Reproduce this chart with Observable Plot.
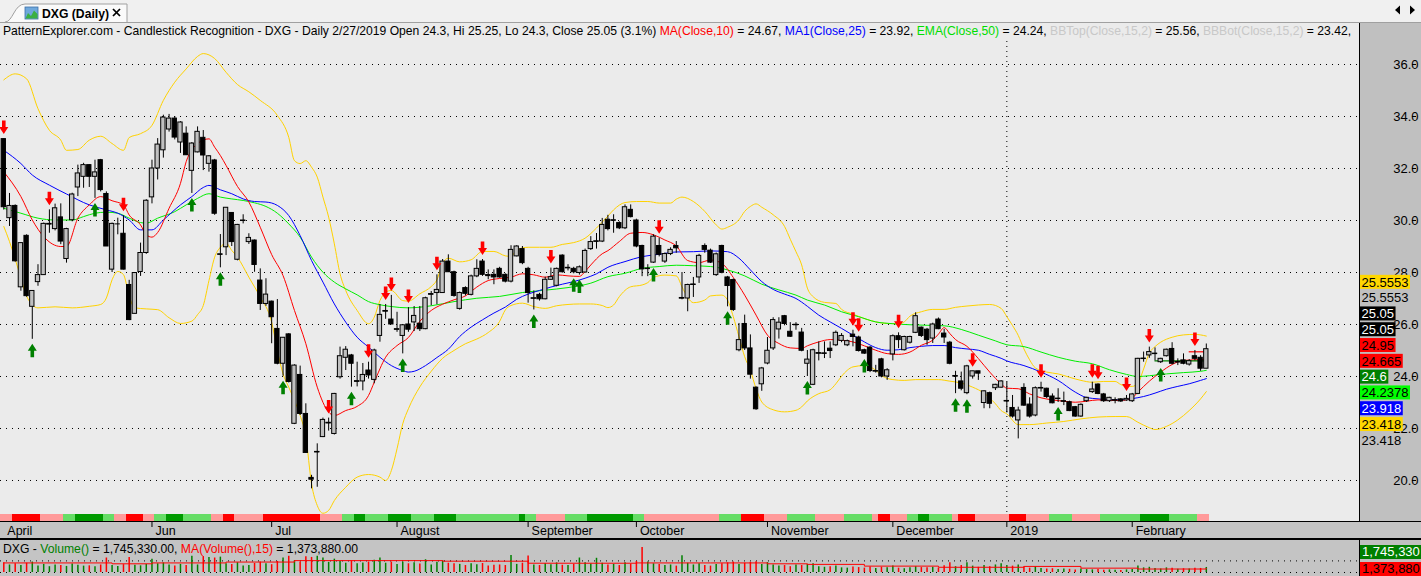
<!DOCTYPE html>
<html><head><meta charset="utf-8">
<script src="https://cdn.jsdelivr.net/npm/d3@7"></script>
<script src="https://cdn.jsdelivr.net/npm/@observablehq/plot@0.6"></script>
<style>
html,body{margin:0;padding:0;}
body{width:1421px;height:576px;overflow:hidden;position:relative;background:#F0F0F0;font-family:"Liberation Sans",Arial,sans-serif;color:#000;}
.abs{position:absolute;}
.lbl{position:absolute;font-size:13px;line-height:14px;height:14px;white-space:nowrap;overflow:hidden;padding-left:2px;box-sizing:border-box;}
</style></head><body>
<svg class="abs" style="left:0;top:0" width="1421" height="23">
  <path d="M5,22 C13,22 14,4 25,4 L127,4 L127,22" fill="#FAFAFA" stroke="#A0A0A0"/>
  <rect x="25" y="7" width="13" height="12" fill="#6FA8DC" stroke="#3D6FA8" stroke-width="0.8"/>
  <polygon points="25.5,18.5 28,13 31,16 34,10.5 37.5,14 37.5,18.5" fill="#3CB043"/>
  <text x="42" y="18" font-size="12.2" font-weight="bold" font-family="Liberation Sans,Arial,sans-serif">DXG (Daily)</text>
  <line x1="113" y1="9" x2="120" y2="16" stroke="#000" stroke-width="1.7"/>
  <line x1="120" y1="9" x2="113" y2="16" stroke="#000" stroke-width="1.7"/>
  <polygon points="1400,5.5 1400,14.5 1395,10" fill="#000"/>
  <polygon points="1410,5.5 1410,14.5 1415,10" fill="#000"/>
</svg>
<div class="abs" style="left:0;top:22px;width:1421px;height:1px;background:#A0A0A0"></div>
<div class="abs" style="left:0;top:23px;width:1359px;height:498px;background:#EBEBEB"></div>
<div class="abs" style="left:1359px;top:23px;width:62px;height:498px;background:#C0C0C0"></div>
<div class="abs" style="left:1359px;top:23px;width:1px;height:498px;background:#000"></div>
<div class="abs" style="left:0;top:521px;width:1421px;height:1px;background:#000"></div>
<div class="abs" style="left:0;top:522px;width:1421px;height:16px;background:#C4C4C4"></div>
<div class="abs" style="left:0;top:538px;width:1421px;height:2px;background:#000"></div>
<div class="abs" style="left:0;top:540px;width:1359px;height:36px;background:#C4C4C4"></div>
<div class="abs" style="left:1359px;top:540px;width:62px;height:36px;background:#C0C0C0"></div>
<div class="abs" style="left:1359px;top:540px;width:1px;height:36px;background:#000"></div>
<div class="abs" id="title" style="left:3px;top:24px;font-size:12.15px;line-height:14px;white-space:nowrap;">PatternExplorer.com - Candlestick Recognition - DXG - Daily 2/27/2019 Open 24.3, Hi 25.25, Lo 24.3, Close 25.05 (3.1%) <span style="color:#FF0000">MA(Close,10)</span> = 24.67, <span style="color:#0000FF">MA1(Close,25)</span> = 23.92, <span style="color:#00DD00">EMA(Close,50)</span> = 24.24, <span style="color:#C8C8C8">BBTop(Close,15,2)</span> = 25.56, <span style="color:#C8C8C8">BBBot(Close,15,2)</span> = 23.42,</div>
<div class="abs" id="main" style="left:0;top:23px"></div>
<div class="abs" id="axis" style="left:0;top:522px"></div>
<div class="abs" id="vol" style="left:0;top:539px"></div>
<div class="abs" id="voltitle" style="left:3px;top:542px;font-size:12.2px;line-height:14px;white-space:nowrap;">DXG - <span style="color:#008000">Volume()</span> = 1,745,330.00, <span style="color:#FF0000">MA(Volume(),15)</span> = 1,373,880.00</div>
<div class="lbl" id="vl1" style="left:1360px;top:545px;width:61px;background:#008000;color:#fff;"></div>
<div class="lbl" id="vl2" style="left:1360px;top:562px;width:61px;background:#FF0000;color:#000;"></div>
<script>
// ---------- DATA ----------
const open = [
33.13,30.09,30.56,27.43,29.41,26.68,27.63,27.9,29.85,29.67,
30.12,28.52,30.01,31.27,31.68,32.13,31.68,32.32,31.02,28.11,
29.87,29.49,27.52,26.41,28.02,28.75,30.89,32.0,32.7,33.5,
33.92,33.0,33.34,31.91,32.62,33.18,32.18,32.31,28.69,28.97,
30.29,28.49,29.98,29.17,29.23,27.69,26.79,26.88,25.83,24.49,
25.62,22.18,24.06,22.56,20.1,21.09,21.67,22.2,21.79,23.97,
24.72,24.81,23.8,23.81,24.23,23.87,25.56,26.5,26.19,25.8,
25.56,26.0,26.08,26.03,25.82,27.15,27.21,27.21,28.42,28.01,
26.6,27.4,27.14,27.85,28.42,27.9,27.91,28.14,27.91,27.65,
28.62,28.9,28.14,27.0,27.14,26.97,27.72,27.49,28.65,28.17,
28.14,27.98,28.0,28.9,29.19,29.19,30.03,30.0,29.9,29.7,
30.41,30.0,29.02,28.14,28.38,29.02,28.42,28.71,29.02,27.0,
27.0,27.52,27.81,29.02,28.84,27.9,29.02,27.81,27.71,25.01,
26.02,25.08,23.57,23.7,24.5,25.08,25.81,26.32,25.72,25.98,
25.69,24.49,23.68,24.88,24.88,25.07,25.2,25.37,25.2,25.61,
25.5,25.01,25.11,24.2,24.66,24.0,24.85,25.55,25.01,25.3,
25.68,25.88,25.8,25.46,26.19,25.65,25.3,24.0,23.81,23.36,
24.0,24.2,22.98,23.36,23.55,23.57,23.05,22.79,22.31,23.56,
22.92,22.5,23.55,23.53,23.23,23.14,23.04,23.01,22.82,22.46,
23.05,23.4,23.69,23.31,23.05,23.08,23.12,23.08,23.05,23.33,
24.68,24.81,24.87,24.55,24.78,25.06,24.55,24.62,24.46,24.78,
24.72,24.3];
const high = [
33.15,31.04,30.6,29.15,29.45,27.3,28.3,29.9,30.41,30.63,
30.64,29.7,31.05,32.13,32.2,32.15,32.32,32.35,31.1,29.9,
30.09,30.18,27.7,28.0,29.13,30.8,32.32,33.15,34.05,34.08,
34.0,33.8,33.6,33.0,33.6,33.46,32.5,32.35,29.46,30.5,
30.3,29.85,30.22,29.49,29.25,28.14,27.76,26.9,26.96,25.5,
25.65,24.45,24.4,22.95,20.2,21.41,22.4,22.4,23.35,25.13,
25.15,24.85,24.55,24.5,24.55,25.05,26.77,26.77,27.12,26.47,
26.0,26.65,26.69,26.69,27.05,27.27,27.91,28.5,28.68,28.05,
27.25,27.45,27.9,28.49,28.5,28.1,28.1,28.2,27.95,29.03,
29.03,29.0,28.2,27.29,27.2,27.82,28.17,28.17,28.68,28.3,
28.2,28.25,28.9,29.38,29.5,30.08,30.2,30.22,29.95,30.6,
30.6,30.05,29.05,28.3,29.45,29.32,28.75,28.95,29.19,28.0,
27.55,27.81,28.7,29.1,28.9,28.75,29.05,27.85,27.75,26.04,
26.36,25.6,23.6,24.35,25.5,26.26,26.26,26.35,26.07,26.07,
25.85,25.0,25.05,25.33,25.33,25.33,25.75,25.65,25.4,25.78,
25.55,25.05,25.15,24.43,24.7,24.3,25.6,25.68,25.55,25.55,
26.45,25.9,25.85,26.05,26.25,25.81,25.35,24.2,24.17,24.43,
24.2,24.2,23.45,23.4,23.7,23.84,23.78,23.27,22.82,23.72,
23.18,23.6,23.78,23.55,23.33,23.53,23.4,23.05,22.85,22.95,
23.2,23.78,23.72,23.35,23.2,23.18,23.15,23.27,23.35,24.7,
24.94,25.13,25.1,24.7,25.05,25.3,24.68,24.87,24.65,25.0,
24.8,25.25];
const low = [
30.4,29.77,28.4,27.28,27.05,25.43,27.47,27.9,29.51,29.6,
29.07,28.36,29.95,30.92,31.24,31.27,30.85,31.1,29.0,28.0,
29.45,28.1,26.15,26.4,27.85,28.7,30.64,31.56,32.4,33.4,
33.1,32.58,32.5,31.04,32.6,31.92,31.86,30.2,28.18,28.65,
29.0,28.45,29.87,29.08,28.01,26.54,26.7,25.26,24.45,24.01,
23.75,22.15,22.5,21.05,19.68,19.74,21.65,21.9,21.75,23.9,
24.23,23.59,23.6,23.45,23.9,23.72,25.32,26.2,26.0,25.7,
24.87,25.7,25.73,25.73,25.8,26.72,26.76,27.2,28.0,27.05,
26.55,27.1,27.1,27.8,27.85,27.72,27.53,27.78,27.6,27.6,
28.6,28.3,26.82,26.56,26.9,26.95,27.7,27.45,27.98,28.06,
27.95,27.9,27.98,28.85,28.9,29.15,29.6,29.51,29.65,29.65,
30.1,28.95,27.84,27.84,28.35,28.6,28.35,28.65,28.74,26.95,
26.49,27.04,27.58,28.74,28.35,27.85,27.95,26.68,26.5,24.95,
25.0,23.9,22.7,23.43,24.45,25.0,25.44,25.95,25.5,25.78,
24.95,24.0,23.65,24.6,24.69,24.69,25.15,25.3,25.15,25.14,
24.94,24.85,24.15,24.13,23.95,23.85,24.6,25.07,24.98,25.25,
25.65,25.5,25.2,25.27,25.8,25.27,24.45,23.34,23.45,23.3,
23.9,23.85,22.76,22.76,23.46,23.55,22.6,22.4,21.6,22.85,
22.4,22.45,23.4,23.15,22.95,23.0,22.88,22.65,22.43,22.43,
23.0,23.35,23.3,23.0,23.0,22.95,23.0,23.05,23.0,23.3,
24.55,24.7,24.6,24.5,24.75,24.45,24.42,24.45,24.4,24.6,
24.2,24.3];
const close = [
30.51,30.56,28.43,29.13,27.09,27.29,27.9,29.87,29.87,30.47,
29.19,29.67,31.0,31.81,32.13,31.68,31.85,31.17,29.0,29.87,
29.87,28.11,26.17,27.98,28.75,30.76,32.0,32.92,33.96,33.92,
33.19,33.77,32.51,32.96,33.41,32.5,32.47,30.26,28.7,30.49,
29.17,29.83,30.0,29.33,28.29,26.79,27.15,26.28,24.49,25.49,
23.79,24.42,22.56,21.06,20.05,21.1,22.33,22.22,23.33,24.78,
25.03,24.49,23.82,24.06,24.04,25.0,26.37,26.52,26.0,25.82,
25.97,25.8,26.33,25.82,27.01,27.17,27.33,28.42,28.01,27.1,
27.21,27.18,27.85,28.14,27.91,27.88,27.81,27.81,27.65,28.87,
29.0,28.36,27.21,27.01,26.97,27.72,27.82,28.14,28.01,28.18,
28.01,28.2,28.83,29.17,29.2,29.83,29.67,30.01,29.7,30.51,
30.13,29.0,28.12,28.15,29.38,28.68,28.71,28.87,28.93,27.02,
27.52,27.54,28.64,28.87,28.38,28.7,27.99,27.48,26.56,25.4,
25.08,24.07,22.74,24.31,24.99,26.17,26.07,26.02,25.53,25.99,
24.99,24.65,25.01,24.9,24.89,24.98,25.68,25.56,25.36,25.52,
24.98,24.88,24.21,24.21,24.0,24.24,25.55,25.4,25.52,25.52,
26.32,25.56,25.4,26.0,25.82,25.5,24.49,24.02,23.53,24.39,
24.2,24.11,23.43,22.95,23.68,23.81,23.06,22.46,22.69,22.88,
22.46,23.55,23.56,23.21,22.97,23.15,23.05,22.67,22.46,22.91,
23.18,23.5,23.33,23.05,23.18,23.09,23.04,23.14,23.31,24.68,
24.69,24.94,24.88,24.68,25.03,24.49,24.56,24.49,24.59,24.68,
24.3,25.05];
// volume, millions of shares
const volume = [
3.4,2.6,3.0,2.4,3.2,3.6,2.2,2.8,2.0,2.6,
2.4,2.1,2.9,2.5,2.2,2.3,2.0,2.6,5.0,2.4,
2.1,2.7,5.2,2.5,2.3,2.8,4.6,3.0,3.3,2.6,
2.2,2.8,2.4,5.6,2.6,5.5,5.2,5.0,5.3,3.0,
2.8,3.4,2.2,2.4,3.1,3.6,3.0,2.7,3.8,5.0,
5.6,4.0,3.6,5.4,5.2,5.6,5.0,3.5,4.6,3.8,
3.2,4.0,3.0,3.3,3.6,4.2,5.0,3.2,3.6,2.8,
3.6,3.0,3.4,2.9,4.4,2.6,3.5,4.0,3.2,3.0,
2.8,2.4,3.0,2.7,3.1,2.2,2.5,2.6,2.4,5.9,
2.8,3.2,5.7,2.6,2.4,3.0,2.7,3.3,2.5,2.4,
2.8,5.0,3.4,2.9,4.9,3.2,2.6,2.8,2.4,3.4,
2.9,3.8,8.6,3.6,3.0,2.8,2.4,2.6,2.2,5.8,
3.2,2.6,3.0,2.4,2.2,2.8,3.0,3.3,3.6,2.8,
3.2,3.5,3.7,2.8,3.4,2.6,2.2,2.4,2.0,2.6,
2.4,2.8,3.0,2.0,1.8,2.0,2.2,1.6,1.5,1.9,
1.7,1.5,1.9,1.4,1.8,1.6,2.2,1.5,1.3,1.6,
2.0,1.7,1.6,1.8,1.5,2.3,3.4,2.0,2.4,3.4,
2.2,1.8,2.4,2.0,2.6,3.0,2.4,2.2,2.6,1.9,
1.5,2.0,1.4,1.2,1.3,1.0,1.2,1.1,0.9,1.2,
1.0,0.9,1.0,0.8,0.9,0.8,0.7,0.9,1.0,2.2,
1.6,1.8,1.4,1.2,1.6,1.5,1.1,1.3,1.2,1.5,
1.4,1.74533];
const volumeMA15 = [[1,3.3],[20,3.0],[27,3.3],[40,3.6],[52,4.1],[70,4.1],[78,3.9],[93,3.2],[112,3.3],[125,3.3],[135,3.0],[142,2.8],[152,2.2],[165,1.8],[180,2.1],[190,1.5],[200,1.2],[212,1.37388]];
const lastVolume = 1745330, lastVolumeMA = 1373880;

const ma10 = [[1,31.87],[4,30.92],[6,30.02],[8,29.38],[11,29.0],[12,29.0],[14,30.09],[16,30.6],[18,30.92],[20,30.76],[22,30.6],[23,30.21],[25,29.83],[26,29.45],[27,29.36],[28,29.54],[30,30.47],[32,31.43],[33,32.26],[35,32.96],[37,33.14],[38,32.82],[39,32.5],[40,32.12],[42,31.31],[44,30.71],[46,29.74],[48,28.69],[50,27.88],[52,26.54],[54,25.26],[56,23.59],[58,22.63],[59,22.5],[61,22.69],[63,22.85],[65,23.27],[66,23.78],[68,24.74],[70,25.19],[72,25.5],[74,26.12],[76,26.54],[78,26.78],[80,26.95],[82,27.1],[84,27.44],[86,27.69],[88,27.77],[90,27.82],[92,27.95],[94,27.91],[96,27.82],[98,27.91],[100,27.87],[102,27.85],[103,28.04],[104,28.29],[106,28.72],[107,28.84],[109,29.19],[111,29.51],[113,29.54],[115,29.45],[117,29.25],[119,29.02],[121,28.46],[123,28.38],[125,28.48],[127,28.35],[129,27.81],[131,27.13],[133,26.36],[135,25.59],[137,25.27],[139,25.1],[141,25.08],[142,25.18],[144,25.33],[146,25.42],[148,25.4],[150,25.33],[152,25.18],[154,25.01],[156,24.88],[158,24.85],[160,24.94],[162,25.2],[164,25.4],[165,25.63],[166,25.88],[167,25.65],[168,25.42],[170,25.16],[172,24.69],[174,24.17],[176,23.72],[177,23.55],[179,23.53],[181,23.33],[183,23.18],[185,23.1],[187,23.05],[189,23.01],[191,23.05],[193,23.1],[195,23.08],[197,23.08],[199,23.18],[200,23.4],[202,23.82],[204,24.17],[206,24.46],[208,24.62],[210,24.64],[212,24.665]];
const ma25 = [[1,32.7],[4,32.19],[6,31.75],[9,31.36],[12,31.02],[16,30.6],[19,30.41],[21,30.28],[23,30.02],[25,29.64],[27,29.64],[29,30.02],[32,30.6],[34,30.92],[36,31.27],[37,31.35],[39,31.18],[41,31.03],[43,30.83],[45,30.73],[47,30.71],[49,30.58],[51,30.19],[53,29.42],[55,28.46],[57,27.63],[59,26.79],[61,26.09],[63,25.51],[65,25.13],[67,24.74],[69,24.42],[71,24.23],[72,24.17],[73,24.2],[75,24.42],[77,24.73],[79,25.05],[81,25.54],[83,25.9],[85,26.18],[87,26.44],[89,26.67],[91,26.97],[93,27.17],[95,27.31],[97,27.44],[99,27.55],[101,27.65],[103,27.78],[105,27.95],[107,28.2],[110,28.42],[113,28.61],[116,28.7],[119,28.79],[122,28.8],[125,28.83],[128,28.8],[130,28.55],[132,28.1],[134,27.65],[136,27.35],[138,27.17],[140,27.0],[142,26.7],[144,26.36],[146,26.1],[148,25.85],[150,25.59],[152,25.33],[154,25.11],[156,25.01],[158,25.03],[160,25.11],[162,25.16],[164,25.19],[166,25.19],[168,25.11],[170,25.06],[172,25.01],[174,24.85],[176,24.7],[177,24.6],[180,24.42],[183,24.17],[186,23.85],[189,23.4],[191,23.19],[193,23.14],[195,23.1],[197,23.1],[199,23.15],[201,23.23],[203,23.36],[205,23.51],[207,23.62],[209,23.72],[211,23.85],[212,23.918]];
const ema50 = [[1,30.47],[4,30.28],[7,30.09],[10,30.02],[13,30.02],[15,30.15],[17,30.28],[19,30.32],[21,30.28],[23,30.09],[25,29.92],[26,29.9],[28,30.09],[31,30.34],[33,30.6],[35,30.85],[37,31.03],[39,30.9],[41,30.83],[43,30.77],[45,30.68],[47,30.54],[49,30.28],[51,29.87],[53,29.36],[55,28.59],[57,28.01],[59,27.63],[61,27.37],[63,27.14],[65,26.88],[67,26.76],[69,26.69],[72,26.64],[76,26.72],[80,26.88],[84,27.01],[88,27.08],[92,27.23],[96,27.32],[100,27.42],[104,27.59],[107,27.84],[110,27.97],[113,28.16],[116,28.23],[119,28.28],[122,28.26],[125,28.23],[128,28.1],[131,27.87],[134,27.55],[137,27.33],[140,27.13],[142,26.94],[145,26.75],[148,26.49],[151,26.3],[154,26.1],[157,26.03],[160,25.99],[163,25.97],[166,25.95],[169,25.81],[172,25.59],[175,25.37],[177,25.22],[180,25.15],[183,24.94],[186,24.74],[189,24.59],[192,24.49],[195,24.26],[198,24.08],[200,24.0],[202,24.03],[205,24.1],[208,24.15],[211,24.2],[212,24.2378]];
const bbTop = [[1,35.41],[3,35.64],[5,35.45],[7,34.3],[9,33.47],[11,33.09],[12,32.7],[14,32.73],[16,33.09],[18,33.24],[20,32.96],[22,32.7],[23,33.19],[25,33.34],[27,33.66],[29,34.62],[31,35.32],[33,35.83],[35,36.31],[36,36.42],[38,36.23],[40,35.7],[42,35.23],[44,34.95],[46,34.62],[49,34.04],[51,33.2],[52,32.3],[53,32.19],[54,32.3],[55,32.05],[56,31.67],[57,30.9],[58,30.13],[59,29.1],[60,27.95],[61,27.31],[63,26.54],[65,26.03],[66,26.28],[67,26.92],[68,27.24],[69,27.31],[71,26.92],[72,26.9],[74,27.18],[76,27.46],[77,27.72],[78,28.36],[79,28.55],[81,28.41],[83,28.49],[85,28.81],[87,28.81],[89,28.64],[90,28.62],[91,28.87],[93,28.97],[95,28.97],[97,28.97],[99,29.08],[101,29.15],[103,29.32],[105,29.71],[107,30.17],[108,30.41],[110,30.69],[112,30.73],[114,30.73],[116,30.67],[118,30.67],[119,30.82],[120,30.9],[122,30.73],[124,30.35],[126,29.83],[127,29.67],[128,29.74],[130,30.03],[131,30.35],[132,30.54],[133,30.64],[134,30.51],[136,30.22],[138,29.77],[139,29.28],[140,28.8],[141,28.29],[142,27.4],[143,27.07],[145,26.85],[147,26.81],[148,26.58],[150,26.4],[152,26.23],[154,26.1],[156,26.04],[158,26.03],[159,26.1],[160,26.32],[162,26.49],[164,26.58],[166,26.58],[168,26.66],[170,26.71],[172,26.75],[174,26.77],[176,26.62],[177,26.3],[178,25.96],[179,25.58],[180,25.06],[181,24.64],[182,24.33],[184,24.17],[186,24.1],[188,23.97],[190,23.85],[192,23.78],[194,23.81],[196,23.81],[197,23.69],[198,23.62],[199,23.62],[200,23.74],[201,24.29],[202,24.9],[203,25.15],[204,25.32],[206,25.51],[208,25.6],[210,25.62],[212,25.5553]];
const bbBot = [[1,29.77],[2,29.19],[4,27.79],[5,27.09],[7,26.64],[10,26.68],[13,26.64],[16,26.7],[18,26.77],[19,27.02],[20,27.72],[21,28.04],[22,27.92],[23,27.09],[24,26.64],[26,26.6],[28,26.57],[30,26.26],[32,26.04],[34,26.13],[35,26.38],[36,26.73],[37,27.69],[38,28.59],[39,28.97],[40,29.13],[41,28.85],[42,28.59],[44,27.82],[46,27.05],[48,26.09],[49,25.0],[50,24.1],[51,23.59],[52,23.08],[53,22.5],[54,21.67],[55,19.87],[56,19.04],[57,18.74],[58,18.85],[59,19.23],[61,19.74],[63,20.13],[65,20.23],[67,20.13],[68,20.0],[69,20.38],[70,21.22],[71,22.18],[72,22.76],[74,23.6],[76,24.2],[78,24.7],[80,25.0],[82,25.26],[84,25.44],[86,25.69],[88,26.12],[89,26.56],[90,26.73],[92,26.82],[94,26.69],[96,26.62],[98,26.72],[100,26.77],[102,26.79],[104,26.79],[106,26.73],[107,26.65],[108,26.75],[109,27.07],[111,27.45],[113,27.52],[114,27.61],[115,27.81],[117,27.9],[119,27.87],[120,27.45],[121,27.04],[122,26.84],[124,26.94],[125,27.1],[127,27.13],[128,26.94],[129,26.3],[130,25.53],[131,24.76],[132,24.24],[133,23.53],[134,23.02],[136,22.72],[138,22.64],[140,22.7],[141,22.83],[142,23.06],[144,23.34],[146,23.49],[147,23.72],[148,24.01],[149,24.24],[150,24.37],[152,24.42],[154,24.24],[155,24.04],[157,23.88],[159,23.85],[161,23.88],[163,23.88],[165,23.88],[167,23.82],[169,23.75],[171,23.59],[173,23.36],[175,22.95],[176,22.69],[177,22.56],[179,22.15],[181,22.15],[184,22.21],[187,22.27],[190,22.37],[193,22.44],[196,22.46],[198,22.46],[200,22.24],[202,22.03],[203,21.96],[205,22.08],[207,22.33],[209,22.69],[211,23.14],[212,23.418]];

const bearish = [1,9,22,58,65,68,69,72,77,85,97,116,150,151,158,171,183,192,193,198,202,210];
const bullish = [6,17,34,39,50,62,71,94,101,102,115,128,142,152,168,170,186,204];

const stripRuns = [["P",2],["R",5],["P",4],["L",2],["G",5],["L",2],["P",2],["R",3],["P",2],["L",2],["G",3],["L",5],["P",2],["R",2],["P",5],["R",10],["P",4],["L",2],["G",2],["L",4],["G",4],["L",4],["G",4],["L",11],["G",1],["L",2],["P",5],["L",4],["G",8],["L",2],["P",13],["L",4],["R",4],["P",4],["L",5],["P",5],["L",5],["P",1],["R",2],["P",3],["L",2],["G",2],["L",4],["P",1],["R",3],["P",6],["R",3],["P",4],["L",4],["P",5],["L",7],["G",5],["L",5],["P",2]];

const levelValues = [24.95, 24.6];
const levelFrom = [209, 203];
const levelTo = [212, 212];

const monthLabels = ["April","Jun","Jul","August","September","October","November","December","2019","February"];
const monthStart = [1,27,48,70,93,112,135,157,177,199];
const yearStart = 177;

const yTicks = [20,22,24,26,28,30,32,34,36];
const rightLabels = ["25.5553","25.5553","25.05","25.05","24.95","24.665","24.6","24.2378","23.918","23.418","23.418"];

// ---------- STYLES ----------
const stripColor = {R:"#FF0000", P:"#FF9A9A", G:"#009A00", L:"#66DD66"};
const levelColor = ["#FF0000", "#008000"];
const rightLabelBg = ["#FFD700", null, "#000000", "#000000", "#FF0000", "#FF0000", "#008000", "#00FF00", "#0000FF", "#FFD700", null];
const rightLabelFg = ["#000", "#000", "#fff", "#fff", "#000", "#000", "#fff", "#000", "#fff", "#000", "#000"];
const FONT = "'Liberation Sans', Arial, sans-serif";

// ---------- BUILD ----------
const candles = open.map((o, i) => ({n: i + 1, o, h: high[i], l: low[i], c: close[i]}));
const strip = [];
stripRuns.forEach(([code, len]) => { for (let k = 0; k < len; k++) strip.push({n: strip.length + 1, code}); });
const levels = levelValues.map((v, i) => ({v, n1: levelFrom[i], n2: levelTo[i], color: levelColor[i]}));
const volData = volume.map((v, i) => ({n: i + 1, v, up: close[i] >= open[i]}));
const months = monthLabels.map((label, i) => ({label, n: monthStart[i], tick: i > 0}));

const xDomain = [0.421, 238.88];

const downArrow = {draw(ctx) {
  ctx.moveTo(-1.8, -7); ctx.lineTo(1.8, -7); ctx.lineTo(1.8, -0.5); ctx.lineTo(4.5, -0.5);
  ctx.lineTo(0, 6.5); ctx.lineTo(-4.5, -0.5); ctx.lineTo(-1.8, -0.5); ctx.closePath();
}};
const upArrow = {draw(ctx) {
  ctx.moveTo(-1.8, 7); ctx.lineTo(1.8, 7); ctx.lineTo(1.8, 0.5); ctx.lineTo(4.5, 0.5);
  ctx.lineTo(0, -6.5); ctx.lineTo(-4.5, 0.5); ctx.lineTo(-1.8, 0.5); ctx.closePath();
}};

const lineOpts = (stroke) => ({x: d => d[0], y: d => d[1], stroke, strokeWidth: 1, curve: "monotone-x"});

const mainPlot = Plot.plot({
  width: 1421, height: 498,
  marginTop: 0, marginBottom: 0, marginLeft: 0, marginRight: 62,
  x: {domain: xDomain, axis: null},
  y: {domain: [18.423, 37.577], axis: null},
  color: {type: "identity"},
  style: {background: "transparent", fontFamily: FONT, color: "#000", overflow: "visible"},
  marks: [
    Plot.gridY(yTicks, {stroke: "#000", strokeOpacity: 1, strokeDasharray: "1,5"}),
    Plot.ruleX([yearStart], {stroke: "#000", strokeDasharray: "1,4", insetTop: 18, insetBottom: 9}),
    Plot.rect(strip, {x1: d => d.n - 0.5, x2: d => d.n + 0.5, fill: d => stripColor[d.code], insetTop: 491, shapeRendering: "crispEdges"}),
    Plot.line(bbTop, lineOpts("#FFD200")),
    Plot.line(bbBot, lineOpts("#FFD200")),
    Plot.line(ema50, lineOpts("#00EE00")),
    Plot.line(ma25, lineOpts("#0000FF")),
    Plot.line(ma10, lineOpts("#FF0000")),
    Plot.ruleY(levels, {y: "v", x1: "n1", x2: "n2", stroke: "color", strokeWidth: 1.2}),
    Plot.ruleX(candles, {x: "n", y1: "l", y2: "h", stroke: "#000", strokeWidth: 1}),
    Plot.rect(candles, {
      x1: d => d.n - 0.38, x2: d => d.n + 0.38,
      y1: d => Math.min(d.o, d.c), y2: d => Math.max(d.o, d.c),
      fill: d => d.c >= d.o ? "#C0C0C0" : "#000000", stroke: "#000", strokeWidth: 1
    }),
    Plot.ruleY(candles.filter(d => Math.abs(d.c - d.o) < 0.06), {y: "c", x1: d => d.n - 0.45, x2: d => d.n + 0.45, stroke: "#000"}),
    Plot.dot(bearish.map(n => candles[n - 1]), {x: "n", y: "h", symbol: downArrow, fill: "#FF0000", stroke: "none", dy: -11}),
    Plot.dot(bullish.map(n => candles[n - 1]), {x: "n", y: "l", symbol: upArrow, fill: "#008000", stroke: "none", dy: 11}),
    Plot.axisY(yTicks, {anchor: "right", tickSize: 4, tickPadding: 3, textAnchor: "end", dx: 52, fontSize: 13, tickFormat: d => d.toFixed(1), stroke: "#000", fill: "#000"})
  ]
});
document.getElementById("main").appendChild(mainPlot);

// stacked value labels on the right axis
(function () {
  const ys = mainPlot.scale("y");
  const center = d3.mean(rightLabels, t => ys.apply(+t));
  const g = d3.select(mainPlot).append("g").attr("font-size", 13).attr("font-family", FONT).attr("text-anchor", "start");
  const mid = (rightLabels.length - 1) / 2;
  rightLabels.forEach((t, i) => {
    const yc = center + (i - mid) * 15.8;
    const rect = g.append("rect").attr("x", 1360).attr("y", yc - 7).attr("height", 14).attr("width", 0)
      .attr("fill", rightLabelBg[i] || "none");
    const txt = g.append("text").attr("x", 1361.5).attr("y", yc).attr("dy", "0.36em")
      .attr("text-anchor", "start").attr("fill", rightLabelFg[i]).text(t);
    rect.attr("width", txt.node().getComputedTextLength() + 3);
  });
})();

const axisPlot = Plot.plot({
  width: 1421, height: 17,
  marginTop: 0, marginBottom: 0, marginLeft: 0, marginRight: 62,
  x: {domain: xDomain, axis: null},
  style: {background: "transparent", fontFamily: FONT, color: "#000"},
  marks: [
    Plot.ruleX(months.filter(d => d.tick), {x: "n", stroke: "#000", insetBottom: 12}),
    Plot.text(months, {x: "n", text: "label", textAnchor: "start", dx: 3.5, fontSize: 12.5, fill: "#000"})
  ]
});
document.getElementById("axis").appendChild(axisPlot);

const volPlot = Plot.plot({
  width: 1421, height: 37,
  marginTop: 0, marginBottom: 0, marginLeft: 0, marginRight: 62,
  x: {domain: xDomain, axis: null},
  y: {domain: [-1.38, 11.38], axis: null},
  color: {type: "identity"},
  style: {background: "transparent", fontFamily: FONT},
  marks: [
    Plot.ruleY([0, 4], {stroke: "#000", strokeDasharray: "1,5"}),
    Plot.ruleX(volData, {x: "n", y1: 0, y2: "v", stroke: d => d.up ? "#008000" : "#FF0000", strokeWidth: 1.5}),
    Plot.line(volumeMA15, {x: d => d[0], y: d => d[1], stroke: "#FF0000", strokeWidth: 1, curve: "step-after"})
  ]
});
document.getElementById("vol").appendChild(volPlot);

document.getElementById("vl1").textContent = d3.format(",")(lastVolume);
document.getElementById("vl2").textContent = d3.format(",")(lastVolumeMA);
</script>
</body></html>
